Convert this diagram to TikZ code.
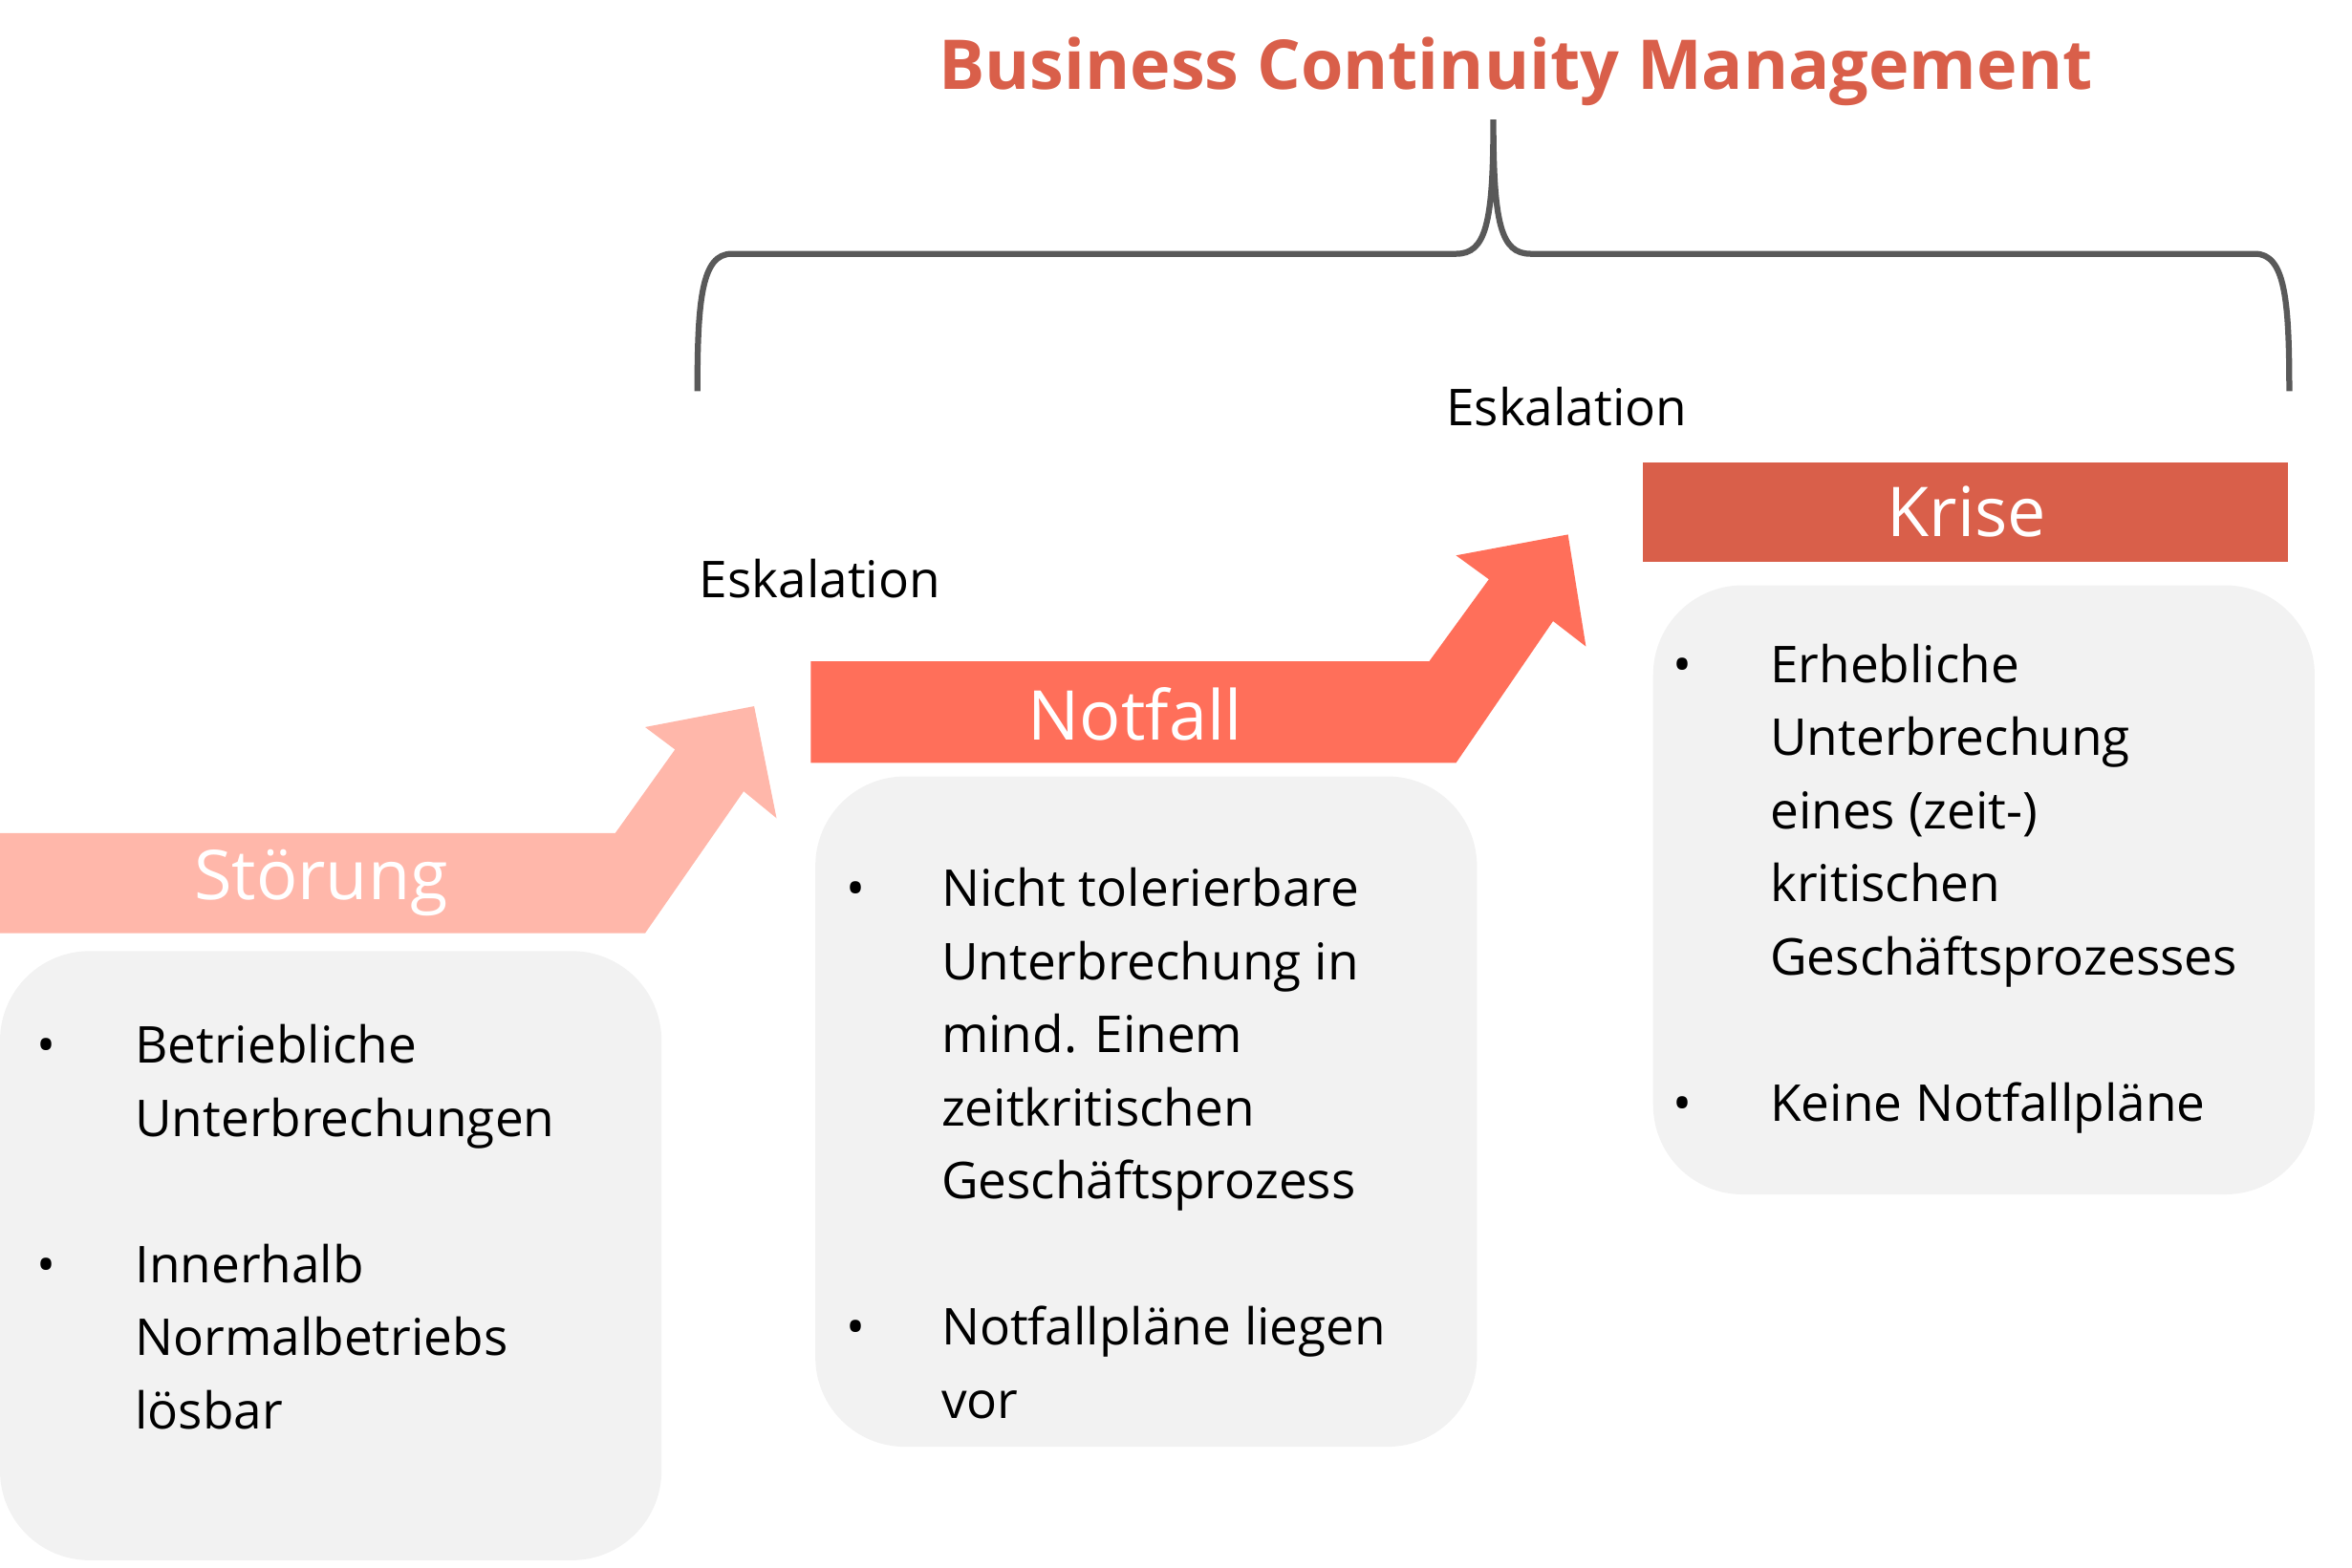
\documentclass[tikz,border=0pt]{standalone}
\usepackage{fontspec}
\setmainfont{Open Sans}
\definecolor{cStoer}{HTML}{FFB7AA}
\definecolor{cNot}{HTML}{FF6F5A}
\definecolor{cKrise}{HTML}{D95F4A}
\definecolor{cBox}{HTML}{F2F2F2}
\definecolor{cBrace}{HTML}{595959}
\begin{document}
\begin{tikzpicture}[x=0.5pt,y=-0.5pt,
  txt/.style={anchor=base west,inner sep=0pt,font=\fontsize{17}{20}\selectfont},
  bar/.style={text=white,font=\fontsize{23}{26}\selectfont},
  gbox/.style={fill=cBox,rounded corners=30pt}]
\useasboundingbox (0,0) rectangle (1575,1050);
% title and brace
\node[text=cKrise,font=\bfseries\fontsize{23}{26}\selectfont] (title) at (1015,48) {Business Continuity Management};
\draw[cBrace,line width=2pt] (467,262) .. controls (467,200) and (470,170) .. (490,170) -- (975,170)
  .. controls (995,170) and (1000,150) .. (1000,80)
  .. controls (1000,150) and (1005,170) .. (1025,170) -- (1510,170)
  .. controls (1530,170) and (1533,200) .. (1533,262);
% bars
\fill[cStoer] (0,558) -- (412,558) -- (452,502) -- (432,487) -- (505,473) -- (520,548) -- (498,530) -- (432,625) -- (0,625) -- cycle;
\fill[cNot] (543,443) -- (957,443) -- (997,388) -- (975,372) -- (1050,358) -- (1062,433) -- (1040,416) -- (975,511) -- (543,511) -- cycle;
\fill[cKrise] (1100,310) rectangle (1532,376);
\node[bar] (s) at (215,591) {Störung};
\node[bar] (n) at (760,478) {Notfall};
\node[bar] (k) at (1317,343) {Krise};
\node[txt] (e1) at (468,400) {Eskalation};
\node[txt] (e2) at (968,285) {Eskalation};
% boxes
\fill[gbox] (0,637) rectangle (443,1045);
\fill[gbox] (546,520) rectangle (989,969);
\fill[gbox] (1107,392) rectangle (1550,800);
% texts
\foreach \y/\t in {712/Betriebliche,761/Unterbrechungen,859/Innerhalb,908/Normalbetriebs,957/lösbar}
  \node[txt] at (90,\y) {\t};
\foreach \y in {712,859} \node[txt] at (24,\y) {•};
\foreach \y/\t in {607/Nicht tolerierbare,656/Unterbrechung in,705/mind. Einem,754/zeitkritischen,803/Geschäftsprozess,901/Notfallpläne liegen,950/vor}
  \node[txt] at (630,\y) {\t};
\foreach \y in {607,901} \node[txt] at (566,\y) {•};
\foreach \y/\t in {457/Erhebliche,506/Unterbrechung,555/eines (zeit-),604/kritischen,653/Geschäftsprozesses,751/Keine Notfallpläne}
  \node[txt] at (1185,\y) {\t};
\foreach \y in {457,751} \node[txt] at (1120,\y) {•};
\end{tikzpicture}
\end{document}
